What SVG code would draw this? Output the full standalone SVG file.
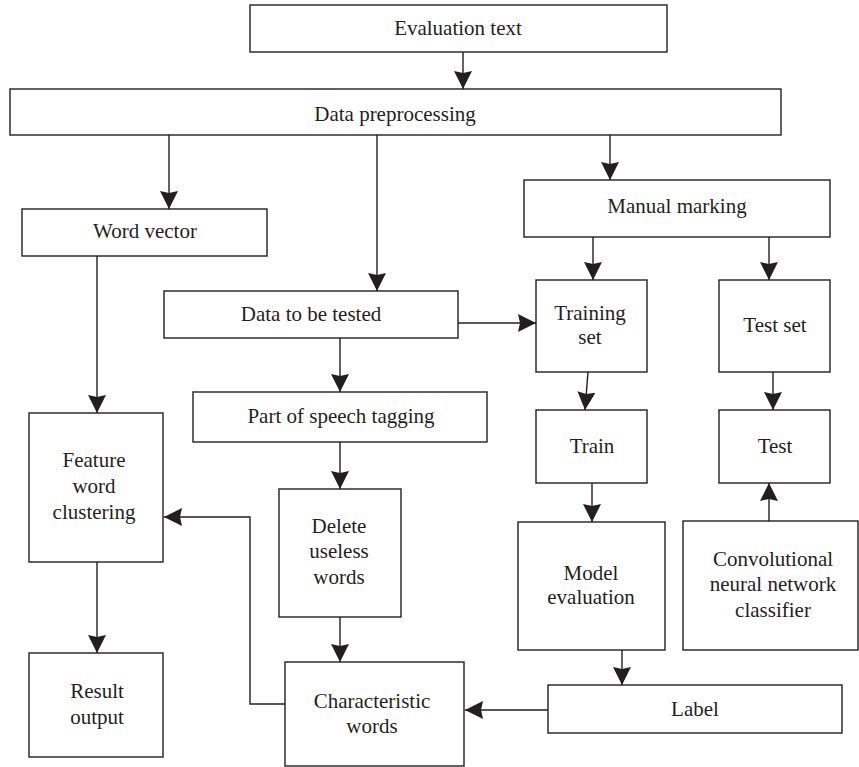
<svg xmlns="http://www.w3.org/2000/svg" width="859" height="767" viewBox="0 0 859 767">
<style>
rect.b{fill:#fff;stroke:#231f20;stroke-width:1.4}
text{font-family:'Liberation Serif','DejaVu Serif',serif;font-size:21px;fill:#231f20;text-anchor:middle}
.c line,.c polyline{fill:none;stroke:#231f20;stroke-width:1.4}
</style>
<defs>
<marker id="ah" markerUnits="userSpaceOnUse" markerWidth="18" markerHeight="18" refX="18" refY="9" orient="auto">
<path d="M0,0 L18,9 L0,18 L2,9 z" fill="#231f20"/>
</marker>
</defs>
<rect width="859" height="767" fill="#fff"/>
<g class="c" id="connectors">
<line x1="463" y1="52" x2="463" y2="89" marker-end="url(#ah)"/>
<line x1="169" y1="135" x2="169" y2="209" marker-end="url(#ah)"/>
<line x1="377" y1="135" x2="377" y2="291" marker-end="url(#ah)"/>
<line x1="610" y1="135" x2="610" y2="180" marker-end="url(#ah)"/>
<line x1="593" y1="237" x2="593" y2="280" marker-end="url(#ah)"/>
<line x1="769" y1="237" x2="769" y2="280" marker-end="url(#ah)"/>
<line x1="458" y1="323" x2="536" y2="323" marker-end="url(#ah)"/>
<line x1="588" y1="372" x2="585" y2="410" marker-end="url(#ah)"/>
<line x1="773" y1="372" x2="773" y2="410" marker-end="url(#ah)"/>
<line x1="592" y1="483" x2="592" y2="522" marker-end="url(#ah)"/>
<line x1="769" y1="521" x2="769" y2="483" marker-end="url(#ah)"/>
<line x1="622" y1="650" x2="622" y2="685" marker-end="url(#ah)"/>
<line x1="548" y1="710" x2="465" y2="710" marker-end="url(#ah)"/>
<line x1="340" y1="338" x2="340" y2="392" marker-end="url(#ah)"/>
<line x1="340" y1="442" x2="340" y2="489" marker-end="url(#ah)"/>
<line x1="340" y1="617" x2="340" y2="662" marker-end="url(#ah)"/>
<line x1="97" y1="256" x2="97" y2="413" marker-end="url(#ah)"/>
<line x1="97" y1="562" x2="97" y2="653" marker-end="url(#ah)"/>
<polyline points="285,704 250,704 250,517 164,517" marker-end="url(#ah)"/>
</g>
<g id="evaluation-text"><rect class="b" x="250" y="5" width="417" height="47"/><text x="458" y="35">Evaluation text</text></g>
<g id="data-preprocessing"><rect class="b" x="10" y="89" width="771" height="46"/><text x="395" y="121">Data preprocessing</text></g>
<g id="word-vector"><rect class="b" x="22" y="209" width="245" height="47"/><text x="145" y="238">Word vector</text></g>
<g id="manual-marking"><rect class="b" x="524" y="180" width="306" height="57"/><text x="677" y="213">Manual marking</text></g>
<g id="data-to-be-tested"><rect class="b" x="164" y="291" width="294" height="47"/><text x="311" y="321">Data to be tested</text></g>
<g id="training-set"><rect class="b" x="536" y="280" width="111" height="92"/><text x="590" y="320">Training</text><text x="590" y="344">set</text></g>
<g id="test-set"><rect class="b" x="719" y="280" width="111" height="92"/><text x="775" y="332">Test set</text></g>
<g id="part-of-speech"><rect class="b" x="193" y="392" width="294" height="50"/><text x="341" y="423">Part of speech tagging</text></g>
<g id="train"><rect class="b" x="536" y="410" width="111" height="73"/><text x="592" y="453">Train</text></g>
<g id="test"><rect class="b" x="719" y="410" width="111" height="73"/><text x="775" y="453">Test</text></g>
<g id="feature-word-clustering"><rect class="b" x="29" y="413" width="134" height="149"/><text x="94" y="467">Feature</text><text x="94" y="493">word</text><text x="94" y="519">clustering</text></g>
<g id="delete-useless-words"><rect class="b" x="279" y="489" width="122" height="128"/><text x="339" y="533">Delete</text><text x="339" y="558">useless</text><text x="339" y="584">words</text></g>
<g id="model-evaluation"><rect class="b" x="518" y="522" width="147" height="128"/><text x="591" y="580">Model</text><text x="591" y="604">evaluation</text></g>
<g id="cnn-classifier"><rect class="b" x="683" y="521" width="175" height="129"/><text x="773" y="566">Convolutional</text><text x="773" y="591">neural network</text><text x="773" y="617">classifier</text></g>
<g id="result-output"><rect class="b" x="29" y="653" width="134" height="104"/><text x="97" y="698">Result</text><text x="97" y="724">output</text></g>
<g id="characteristic-words"><rect class="b" x="285" y="662" width="179" height="104"/><text x="372" y="708">Characteristic</text><text x="372" y="733">words</text></g>
<g id="label"><rect class="b" x="548" y="685" width="294" height="48"/><text x="695" y="716">Label</text></g>
</svg>
